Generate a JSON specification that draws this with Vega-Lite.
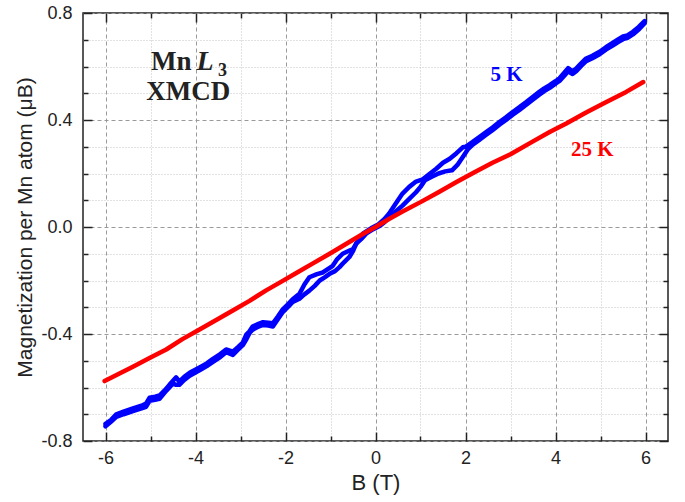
{
  "$schema": "https://vega.github.io/schema/vega-lite/v6.json",
  "width": 585,
  "height": 428,
  "autosize": "none",
  "padding": {"left": 83, "top": 13, "right": 17, "bottom": 61},
  "background": "white",
  "config": {
    "view": {"stroke": "#222222", "strokeWidth": 1.5},
    "axis": {"labelFont": "Liberation Sans", "titleFont": "Liberation Sans", "labelColor": "#222222", "titleColor": "#222222", "titleFontWeight": "normal", "domain": false, "tickColor": "#222222", "tickWidth": 1.5}
  },
  "datasets": {
    "curves": [
      {"s":"5 K","br":"down","B":-6.0,"M":-0.736},{"s":"5 K","br":"down","B":-5.88,"M":-0.722},{"s":"5 K","br":"down","B":-5.76,"M":-0.700},{"s":"5 K","br":"down","B":-5.6,"M":-0.690},{"s":"5 K","br":"down","B":-5.39,"M":-0.678},{"s":"5 K","br":"down","B":-5.2,"M":-0.668},{"s":"5 K","br":"down","B":-5.1,"M":-0.660},{"s":"5 K","br":"down","B":-5.02,"M":-0.638},{"s":"5 K","br":"down","B":-4.9,"M":-0.634},{"s":"5 K","br":"down","B":-4.8,"M":-0.630},{"s":"5 K","br":"down","B":-4.68,"M":-0.610},{"s":"5 K","br":"down","B":-4.58,"M":-0.590},{"s":"5 K","br":"down","B":-4.43,"M":-0.562},{"s":"5 K","br":"down","B":-4.36,"M":-0.578},{"s":"5 K","br":"down","B":-4.25,"M":-0.560},{"s":"5 K","br":"down","B":-4.13,"M":-0.545},{"s":"5 K","br":"down","B":-3.91,"M":-0.525},{"s":"5 K","br":"down","B":-3.75,"M":-0.510},{"s":"5 K","br":"down","B":-3.62,"M":-0.494},{"s":"5 K","br":"down","B":-3.45,"M":-0.475},{"s":"5 K","br":"down","B":-3.32,"M":-0.458},{"s":"5 K","br":"down","B":-3.17,"M":-0.466},{"s":"5 K","br":"down","B":-3.05,"M":-0.448},{"s":"5 K","br":"down","B":-2.95,"M":-0.432},{"s":"5 K","br":"down","B":-2.87,"M":-0.402},{"s":"5 K","br":"down","B":-2.8,"M":-0.390},{"s":"5 K","br":"down","B":-2.73,"M":-0.372},{"s":"5 K","br":"down","B":-2.6,"M":-0.362},{"s":"5 K","br":"down","B":-2.5,"M":-0.356},{"s":"5 K","br":"down","B":-2.38,"M":-0.358},{"s":"5 K","br":"down","B":-2.28,"M":-0.360},{"s":"5 K","br":"down","B":-2.17,"M":-0.335},{"s":"5 K","br":"down","B":-2.06,"M":-0.308},{"s":"5 K","br":"down","B":-1.94,"M":-0.288},{"s":"5 K","br":"down","B":-1.84,"M":-0.270},{"s":"5 K","br":"down","B":-1.69,"M":-0.250},{"s":"5 K","br":"down","B":-1.58,"M":-0.215},{"s":"5 K","br":"down","B":-1.47,"M":-0.188},{"s":"5 K","br":"down","B":-1.3,"M":-0.176},{"s":"5 K","br":"down","B":-1.17,"M":-0.170},{"s":"5 K","br":"down","B":-0.95,"M":-0.145},{"s":"5 K","br":"down","B":-0.85,"M":-0.120},{"s":"5 K","br":"down","B":-0.73,"M":-0.100},{"s":"5 K","br":"down","B":-0.6,"M":-0.090},{"s":"5 K","br":"down","B":-0.5,"M":-0.082},{"s":"5 K","br":"down","B":-0.4,"M":-0.055},{"s":"5 K","br":"down","B":-0.28,"M":-0.025},{"s":"5 K","br":"down","B":-0.1,"M":-0.005},{"s":"5 K","br":"down","B":0.05,"M":0.008},{"s":"5 K","br":"down","B":0.2,"M":0.030},{"s":"5 K","br":"down","B":0.3,"M":0.050},{"s":"5 K","br":"down","B":0.45,"M":0.088},{"s":"5 K","br":"down","B":0.6,"M":0.125},{"s":"5 K","br":"down","B":0.75,"M":0.150},{"s":"5 K","br":"down","B":0.9,"M":0.170},{"s":"5 K","br":"down","B":1.05,"M":0.178},{"s":"5 K","br":"down","B":1.2,"M":0.198},{"s":"5 K","br":"down","B":1.35,"M":0.218},{"s":"5 K","br":"down","B":1.5,"M":0.240},{"s":"5 K","br":"down","B":1.65,"M":0.255},{"s":"5 K","br":"down","B":1.8,"M":0.276},{"s":"5 K","br":"down","B":1.94,"M":0.298},{"s":"5 K","br":"down","B":2.0,"M":0.300},{"s":"5 K","br":"down","B":2.16,"M":0.318},{"s":"5 K","br":"down","B":2.3,"M":0.335},{"s":"5 K","br":"down","B":2.46,"M":0.355},{"s":"5 K","br":"down","B":2.6,"M":0.372},{"s":"5 K","br":"down","B":2.76,"M":0.393},{"s":"5 K","br":"down","B":2.9,"M":0.410},{"s":"5 K","br":"down","B":3.05,"M":0.430},{"s":"5 K","br":"down","B":3.2,"M":0.448},{"s":"5 K","br":"down","B":3.35,"M":0.467},{"s":"5 K","br":"down","B":3.5,"M":0.487},{"s":"5 K","br":"down","B":3.64,"M":0.505},{"s":"5 K","br":"down","B":3.75,"M":0.518},{"s":"5 K","br":"down","B":3.87,"M":0.530},{"s":"5 K","br":"down","B":4.0,"M":0.545},{"s":"5 K","br":"down","B":4.09,"M":0.556},{"s":"5 K","br":"down","B":4.2,"M":0.578},{"s":"5 K","br":"down","B":4.28,"M":0.594},{"s":"5 K","br":"down","B":4.38,"M":0.582},{"s":"5 K","br":"down","B":4.46,"M":0.592},{"s":"5 K","br":"down","B":4.57,"M":0.612},{"s":"5 K","br":"down","B":4.68,"M":0.630},{"s":"5 K","br":"down","B":4.82,"M":0.640},{"s":"5 K","br":"down","B":4.98,"M":0.655},{"s":"5 K","br":"down","B":5.12,"M":0.672},{"s":"5 K","br":"down","B":5.27,"M":0.688},{"s":"5 K","br":"down","B":5.4,"M":0.702},{"s":"5 K","br":"down","B":5.5,"M":0.712},{"s":"5 K","br":"down","B":5.6,"M":0.716},{"s":"5 K","br":"down","B":5.72,"M":0.730},{"s":"5 K","br":"down","B":5.85,"M":0.748},{"s":"5 K","br":"down","B":5.98,"M":0.770},
      {"s":"5 K","br":"up","B":-6.0,"M":-0.745},{"s":"5 K","br":"up","B":-5.88,"M":-0.728},{"s":"5 K","br":"up","B":-5.76,"M":-0.710},{"s":"5 K","br":"up","B":-5.6,"M":-0.700},{"s":"5 K","br":"up","B":-5.39,"M":-0.688},{"s":"5 K","br":"up","B":-5.2,"M":-0.678},{"s":"5 K","br":"up","B":-5.1,"M":-0.672},{"s":"5 K","br":"up","B":-5.02,"M":-0.650},{"s":"5 K","br":"up","B":-4.9,"M":-0.646},{"s":"5 K","br":"up","B":-4.8,"M":-0.642},{"s":"5 K","br":"up","B":-4.68,"M":-0.618},{"s":"5 K","br":"up","B":-4.58,"M":-0.600},{"s":"5 K","br":"up","B":-4.5,"M":-0.585},{"s":"5 K","br":"up","B":-4.43,"M":-0.590},{"s":"5 K","br":"up","B":-4.36,"M":-0.590},{"s":"5 K","br":"up","B":-4.25,"M":-0.572},{"s":"5 K","br":"up","B":-4.13,"M":-0.556},{"s":"5 K","br":"up","B":-3.91,"M":-0.536},{"s":"5 K","br":"up","B":-3.75,"M":-0.520},{"s":"5 K","br":"up","B":-3.62,"M":-0.505},{"s":"5 K","br":"up","B":-3.45,"M":-0.486},{"s":"5 K","br":"up","B":-3.32,"M":-0.468},{"s":"5 K","br":"up","B":-3.17,"M":-0.478},{"s":"5 K","br":"up","B":-3.05,"M":-0.458},{"s":"5 K","br":"up","B":-2.95,"M":-0.442},{"s":"5 K","br":"up","B":-2.87,"M":-0.420},{"s":"5 K","br":"up","B":-2.8,"M":-0.396},{"s":"5 K","br":"up","B":-2.73,"M":-0.384},{"s":"5 K","br":"up","B":-2.6,"M":-0.372},{"s":"5 K","br":"up","B":-2.5,"M":-0.366},{"s":"5 K","br":"up","B":-2.38,"M":-0.368},{"s":"5 K","br":"up","B":-2.28,"M":-0.372},{"s":"5 K","br":"up","B":-2.17,"M":-0.345},{"s":"5 K","br":"up","B":-2.06,"M":-0.318},{"s":"5 K","br":"up","B":-1.94,"M":-0.298},{"s":"5 K","br":"up","B":-1.84,"M":-0.280},{"s":"5 K","br":"up","B":-1.69,"M":-0.268},{"s":"5 K","br":"up","B":-1.58,"M":-0.252},{"s":"5 K","br":"up","B":-1.47,"M":-0.238},{"s":"5 K","br":"up","B":-1.35,"M":-0.220},{"s":"5 K","br":"up","B":-1.24,"M":-0.200},{"s":"5 K","br":"up","B":-1.13,"M":-0.188},{"s":"5 K","br":"up","B":-1.02,"M":-0.175},{"s":"5 K","br":"up","B":-0.9,"M":-0.165},{"s":"5 K","br":"up","B":-0.8,"M":-0.150},{"s":"5 K","br":"up","B":-0.7,"M":-0.132},{"s":"5 K","br":"up","B":-0.58,"M":-0.112},{"s":"5 K","br":"up","B":-0.5,"M":-0.090},{"s":"5 K","br":"up","B":-0.43,"M":-0.062},{"s":"5 K","br":"up","B":-0.3,"M":-0.042},{"s":"5 K","br":"up","B":-0.21,"M":-0.025},{"s":"5 K","br":"up","B":-0.05,"M":-0.008},{"s":"5 K","br":"up","B":0.1,"M":0.005},{"s":"5 K","br":"up","B":0.2,"M":0.018},{"s":"5 K","br":"up","B":0.31,"M":0.037},{"s":"5 K","br":"up","B":0.45,"M":0.058},{"s":"5 K","br":"up","B":0.6,"M":0.080},{"s":"5 K","br":"up","B":0.75,"M":0.105},{"s":"5 K","br":"up","B":0.9,"M":0.130},{"s":"5 K","br":"up","B":1.0,"M":0.150},{"s":"5 K","br":"up","B":1.1,"M":0.175},{"s":"5 K","br":"up","B":1.25,"M":0.188},{"s":"5 K","br":"up","B":1.4,"M":0.200},{"s":"5 K","br":"up","B":1.55,"M":0.208},{"s":"5 K","br":"up","B":1.7,"M":0.212},{"s":"5 K","br":"up","B":1.82,"M":0.232},{"s":"5 K","br":"up","B":1.94,"M":0.262},{"s":"5 K","br":"up","B":2.05,"M":0.290},{"s":"5 K","br":"up","B":2.16,"M":0.308},{"s":"5 K","br":"up","B":2.3,"M":0.325},{"s":"5 K","br":"up","B":2.46,"M":0.345},{"s":"5 K","br":"up","B":2.6,"M":0.362},{"s":"5 K","br":"up","B":2.76,"M":0.383},{"s":"5 K","br":"up","B":2.9,"M":0.400},{"s":"5 K","br":"up","B":3.05,"M":0.420},{"s":"5 K","br":"up","B":3.2,"M":0.438},{"s":"5 K","br":"up","B":3.35,"M":0.457},{"s":"5 K","br":"up","B":3.5,"M":0.477},{"s":"5 K","br":"up","B":3.64,"M":0.495},{"s":"5 K","br":"up","B":3.75,"M":0.508},{"s":"5 K","br":"up","B":3.87,"M":0.520},{"s":"5 K","br":"up","B":4.0,"M":0.536},{"s":"5 K","br":"up","B":4.09,"M":0.546},{"s":"5 K","br":"up","B":4.2,"M":0.566},{"s":"5 K","br":"up","B":4.28,"M":0.582},{"s":"5 K","br":"up","B":4.38,"M":0.572},{"s":"5 K","br":"up","B":4.46,"M":0.582},{"s":"5 K","br":"up","B":4.57,"M":0.602},{"s":"5 K","br":"up","B":4.68,"M":0.620},{"s":"5 K","br":"up","B":4.82,"M":0.631},{"s":"5 K","br":"up","B":4.98,"M":0.646},{"s":"5 K","br":"up","B":5.12,"M":0.663},{"s":"5 K","br":"up","B":5.27,"M":0.678},{"s":"5 K","br":"up","B":5.4,"M":0.692},{"s":"5 K","br":"up","B":5.5,"M":0.702},{"s":"5 K","br":"up","B":5.6,"M":0.707},{"s":"5 K","br":"up","B":5.72,"M":0.720},{"s":"5 K","br":"up","B":5.85,"M":0.738},{"s":"5 K","br":"up","B":5.98,"M":0.762},
      {"s":"25 K","br":"r","B":-6.02,"M":-0.576},{"s":"25 K","br":"r","B":-5.7,"M":-0.549},{"s":"25 K","br":"r","B":-5.39,"M":-0.522},{"s":"25 K","br":"r","B":-5.0,"M":-0.488},{"s":"25 K","br":"r","B":-4.65,"M":-0.458},{"s":"25 K","br":"r","B":-4.3,"M":-0.420},{"s":"25 K","br":"r","B":-3.91,"M":-0.383},{"s":"25 K","br":"r","B":-3.5,"M":-0.344},{"s":"25 K","br":"r","B":-3.17,"M":-0.312},{"s":"25 K","br":"r","B":-2.8,"M":-0.276},{"s":"25 K","br":"r","B":-2.43,"M":-0.237},{"s":"25 K","br":"r","B":-2.1,"M":-0.205},{"s":"25 K","br":"r","B":-1.76,"M":-0.172},{"s":"25 K","br":"r","B":-1.4,"M":-0.137},{"s":"25 K","br":"r","B":-1.0,"M":-0.098},{"s":"25 K","br":"r","B":-0.6,"M":-0.058},{"s":"25 K","br":"r","B":-0.3,"M":-0.028},{"s":"25 K","br":"r","B":0.0,"M":0.0},{"s":"25 K","br":"r","B":0.3,"M":0.030},{"s":"25 K","br":"r","B":0.6,"M":0.058},{"s":"25 K","br":"r","B":1.0,"M":0.093},{"s":"25 K","br":"r","B":1.4,"M":0.130},{"s":"25 K","br":"r","B":1.8,"M":0.168},{"s":"25 K","br":"r","B":2.2,"M":0.205},{"s":"25 K","br":"r","B":2.6,"M":0.240},{"s":"25 K","br":"r","B":3.0,"M":0.272},{"s":"25 K","br":"r","B":3.5,"M":0.320},{"s":"25 K","br":"r","B":3.87,"M":0.355},{"s":"25 K","br":"r","B":4.24,"M":0.387},{"s":"25 K","br":"r","B":4.68,"M":0.428},{"s":"25 K","br":"r","B":5.13,"M":0.467},{"s":"25 K","br":"r","B":5.57,"M":0.505},{"s":"25 K","br":"r","B":5.95,"M":0.542}
    ]
  },
  "layer": [
    {
      "data": {"values": [{"t": "Mn", "B": -4.09, "M": 0.586}]},
      "mark": {"type": "text", "font": "Liberation Serif", "fontWeight": "bold", "fontSize": 27, "align": "right", "baseline": "alphabetic", "color": "#222222"},
      "encoding": {
        "x": {"field": "B", "type": "quantitative", "scale": {"domain": [-6.5, 6.5], "nice": false, "zero": false},
          "axis": {"orient": "bottom", "title": null, "labels": false, "ticks": false, "values": [-5,-3,-1,1,3,5],
            "grid": true, "gridDash": [1, 2], "gridColor": "#c4c4c4", "gridWidth": 1}},
        "y": {"field": "M", "type": "quantitative", "scale": {"domain": [-0.8, 0.8], "nice": false, "zero": false},
          "axis": {"orient": "left", "title": null, "labels": false, "ticks": false, "values": [-0.7,-0.6,-0.5,-0.3,-0.2,-0.1,0.1,0.2,0.3,0.5,0.6,0.7],
            "grid": true, "gridDash": [1, 2], "gridColor": "#c4c4c4", "gridWidth": 1}},
        "text": {"field": "t"}
      }
    },
    {
      "data": {"name": "curves"},
      "mark": {"type": "line", "strokeWidth": 4.5, "strokeCap": "round", "strokeJoin": "round"},
      "encoding": {
        "x": {"field": "B", "type": "quantitative",
          "axis": {"orient": "bottom", "title": "B (T)", "titleFontSize": 22, "titlePadding": 5, "labelFontSize": 18, "labelPadding": 8,
            "values": [-6,-4,-2,0,2,4,6], "ticks": false, "tickSize": 0,
            "labelExpr": "replace(datum.label, '\u2212', '-')",
            "grid": true, "gridDash": [4, 3], "gridColor": "#9a9a9a", "gridWidth": 1}},
        "y": {"field": "M", "type": "quantitative",
          "axis": {"orient": "left", "title": "Magnetization per Mn atom (μB)", "titleFontSize": 21, "titlePadding": 5, "labelFontSize": 18, "labelPadding": 11,
            "values": [-0.8,-0.4,0,0.4,0.8], "ticks": false, "tickSize": 0,
            "labelExpr": "replace(format(datum.value, '.1f'), '\u2212', '-')",
            "grid": true, "gridDash": [4, 3], "gridColor": "#9a9a9a", "gridWidth": 1}},
        "color": {"field": "s", "type": "nominal", "scale": {"domain": ["5 K", "25 K"], "range": ["#0000ff", "#ff0000"]}, "legend": null},
        "detail": {"field": "br"}
      }
    },
    {
      "data": {"values": [{"t": "XMCD", "B": -4.16, "M": 0.474}]},
      "mark": {"type": "text", "font": "Liberation Serif", "fontWeight": "bold", "fontSize": 27, "align": "center", "baseline": "alphabetic", "color": "#222222"},
      "encoding": {
        "x": {"field": "B", "type": "quantitative", "axis": {"orient": "top", "title": null, "labels": false, "grid": false, "values": [-6,-4,-2,0,2,4,6], "ticks": true, "tickSize": 9, "offset": -9}},
        "y": {"field": "M", "type": "quantitative", "axis": {"orient": "right", "title": null, "labels": false, "grid": false, "values": [-0.8,-0.4,0,0.4,0.8], "ticks": true, "tickSize": 9, "offset": -9}},
        "text": {"field": "t"}
      }
    },
    {
      "data": {"values": [{"t": "L", "B": -3.98, "M": 0.586}]},
      "mark": {"type": "text", "font": "Liberation Serif", "fontWeight": "bold", "fontStyle": "italic", "fontSize": 28, "align": "left", "baseline": "alphabetic", "color": "#222222"},
      "encoding": {
        "x": {"field": "B", "type": "quantitative", "axis": {"orient": "top", "title": null, "labels": false, "grid": false, "values": [-5,-3,-1,1,3,5], "ticks": true, "tickSize": 5, "offset": -5}},
        "y": {"field": "M", "type": "quantitative", "axis": {"orient": "right", "title": null, "labels": false, "grid": false, "values": [-0.7,-0.6,-0.5,-0.3,-0.2,-0.1,0.1,0.2,0.3,0.5,0.6,0.7], "ticks": true, "tickSize": 5, "offset": -5}},
        "text": {"field": "t"}
      }
    },
    {
      "data": {"values": [{"t": "3", "B": -3.5, "M": 0.566}]},
      "mark": {"type": "text", "font": "Liberation Serif", "fontWeight": "bold", "fontSize": 18, "align": "left", "baseline": "alphabetic", "color": "#222222"},
      "encoding": {
        "x": {"field": "B", "type": "quantitative", "axis": {"orient": "bottom", "title": null, "labels": false, "grid": false, "values": [-6,-4,-2,0,2,4,6], "ticks": true, "tickSize": 9, "offset": -9}},
        "y": {"field": "M", "type": "quantitative", "axis": {"orient": "left", "title": null, "labels": false, "grid": false, "values": [-0.8,-0.4,0,0.4,0.8], "ticks": true, "tickSize": 9, "offset": -9}},
        "text": {"field": "t"}
      }
    },
    {
      "data": {"values": [{"t": "5 K", "s": "5 K", "B": 2.91, "M": 0.546}]},
      "mark": {"type": "text", "font": "Liberation Serif", "fontWeight": "bold", "fontSize": 21, "align": "center", "baseline": "alphabetic"},
      "encoding": {
        "x": {"field": "B", "type": "quantitative", "axis": {"orient": "bottom", "title": null, "labels": false, "grid": false, "values": [-5,-3,-1,1,3,5], "ticks": true, "tickSize": 5, "offset": -5}},
        "y": {"field": "M", "type": "quantitative", "axis": {"orient": "left", "title": null, "labels": false, "grid": false, "values": [-0.7,-0.6,-0.5,-0.3,-0.2,-0.1,0.1,0.2,0.3,0.5,0.6,0.7], "ticks": true, "tickSize": 5, "offset": -5}},
        "color": {"field": "s", "type": "nominal", "legend": null},
        "text": {"field": "t"}
      }
    },
    {
      "data": {"values": [{"t": "25 K", "s": "25 K", "B": 4.82, "M": 0.264}]},
      "mark": {"type": "text", "font": "Liberation Serif", "fontWeight": "bold", "fontSize": 21, "align": "center", "baseline": "alphabetic"},
      "encoding": {
        "x": {"field": "B", "type": "quantitative", "axis": null},
        "y": {"field": "M", "type": "quantitative", "axis": null},
        "color": {"field": "s", "type": "nominal", "legend": null},
        "text": {"field": "t"}
      }
    }
  ],
  "resolve": {"axis": {"x": "independent", "y": "independent"}}
}
